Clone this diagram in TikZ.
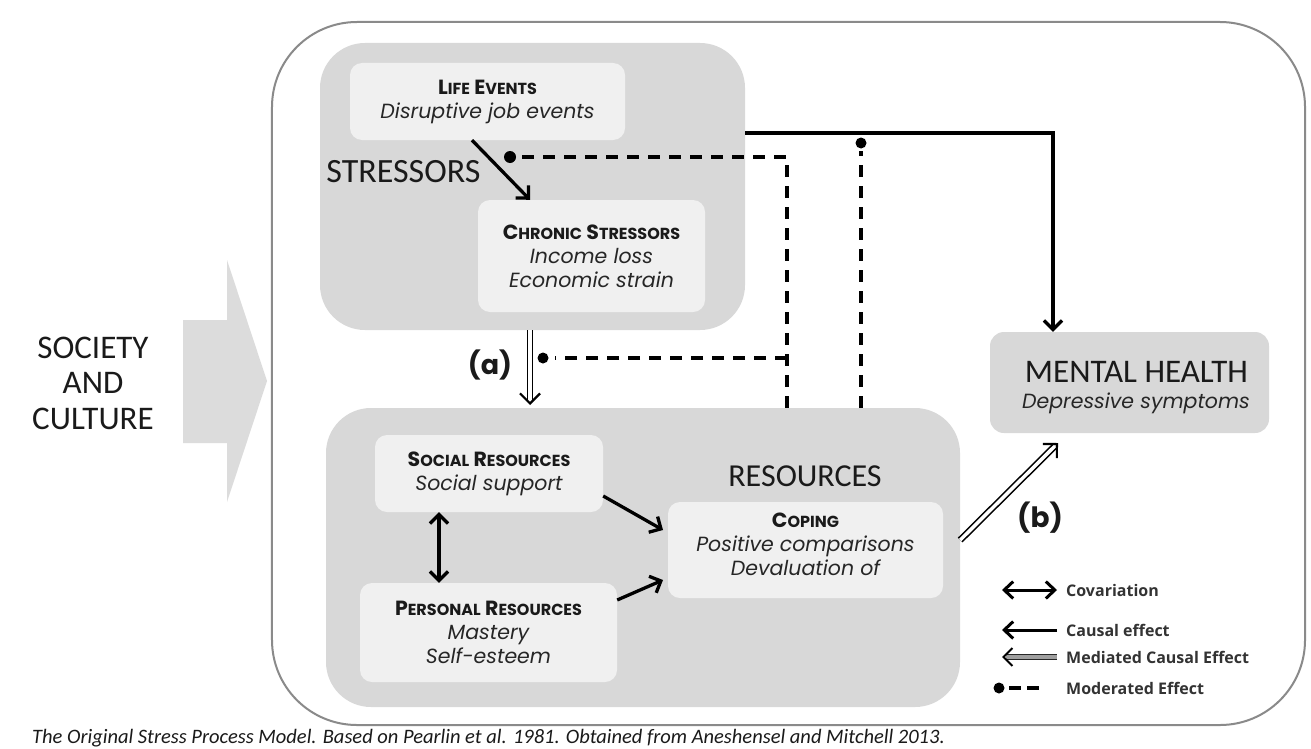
\documentclass[tikz,border=0pt]{standalone}
\usepackage{fontspec}
\setmainfont{Carlito}
\newfontfamily\pop{Poppins}
\newfontfamily\osans{Open Sans}
\usetikzlibrary{arrows.meta,calc}
\definecolor{gbox}{HTML}{D8D8D8}
\definecolor{ibox}{HTML}{F0F0F0}
\definecolor{sarrow}{HTML}{DCDCDC}
\definecolor{framec}{HTML}{8A8A8A}
\definecolor{itxt}{HTML}{262626}
\definecolor{dtxt}{HTML}{1A1A1A}
\newcommand\hd[2]{#1{\fontsize{16bp}{16bp}\selectfont #2}}
\newcommand\hdfont{\pop\bfseries\fontsize{20.5bp}{24bp}\selectfont\color{dtxt}}
\newcommand\itfont{\pop\itshape\fontsize{20.5bp}{24bp}\selectfont\color{itxt}}
\begin{document}
\begin{tikzpicture}[x=1bp,y=-1bp,
  graybox/.style={rectangle, fill=gbox, rounded corners=45bp, inner sep=0pt},
  innerbox/.style={rectangle, fill=ibox, rounded corners=12bp, align=center, inner sep=0pt, font=\fontsize{20bp}{24bp}\selectfont},
  bigtxt/.style={font=\fontsize{33bp}{35.5bp}\selectfont, text=dtxt, align=center, inner sep=0pt},
  causal/.style={line width=3.3bp, draw=black, -{Straight Barb[length=9bp,width=18bp]}},
  modline/.style={line width=3.4bp, draw=black, dash pattern=on 12bp off 9bp},
  moddot/.style={fill=black},
  dbl/.style={line width=1.6bp, draw=black, double=white, double distance=3.5bp},
  barb/.style={line width=2.2bp, draw=black, -{Straight Barb[length=10bp,width=20bp]}},
  legtxt/.style={font=\osans\bfseries\fontsize{16bp}{18bp}\selectfont, text=black!80, anchor=west, inner sep=0pt}]
\useasboundingbox (0,0) rectangle (1311,748);
\fill[white] (0,0) rectangle (1311,748);

% outer frame
\node[draw=framec, line width=2bp, rounded corners=85bp, minimum width=1033bp, minimum height=703bp, inner sep=0pt] (outer) at (788.5,373.5) {};

% society arrow
\fill[sarrow] (183,320) -- (227,320) -- (227,260) -- (267,381) -- (227,502) -- (227,443) -- (183,443) -- cycle;
\node[bigtxt] (soc) at (93,383) {SOCIETY\\AND\\CULTURE};

% stressors
\node[graybox, minimum width=425bp, minimum height=287bp] (strbox) at (532.5,186.5) {};
\node[innerbox, minimum width=275bp, minimum height=77bp] (life) at (487.5,101.5)
  {{\hdfont\hd{L}{IFE} \hd{E}{VENTS}}\\{\itfont Disruptive job events}};
\node[innerbox, minimum width=227bp, minimum height=112bp] (chron) at (591.5,256)
  {{\hdfont\hd{C}{HRONIC} \hd{S}{TRESSORS}}\\{\itfont Income loss}\\{\itfont Economic strain}};
\node[font=\fontsize{34bp}{36bp}\selectfont, text=dtxt, inner sep=0pt] (strlab) at (403.5,172) {STRESSORS};

% resources
\node[graybox, minimum width=634bp, minimum height=299bp] (resbox) at (643,557.5) {};
\node[innerbox, minimum width=228bp, minimum height=77bp] (social) at (489,473.5)
  {{\hdfont\hd{S}{OCIAL} \hd{R}{ESOURCES}}\\{\itfont Social support}};
\node[innerbox, minimum width=257bp, minimum height=99bp] (personal) at (488.5,632.5)
  {{\hdfont\hd{P}{ERSONAL} \hd{R}{ESOURCES}}\\{\itfont Mastery}\\{\itfont Self-esteem}};
\node[innerbox, minimum width=275bp, minimum height=96bp] (coping) at (805.5,550) {};
\node[align=center, inner sep=0pt, font=\fontsize{20bp}{24bp}\selectfont] (copt) at (805.5,544)
  {{\hdfont\hd{C}{OPING}}\\{\itfont Positive comparisons}\\{\itfont Devaluation of}};
\node[font=\fontsize{32bp}{34bp}\selectfont, text=dtxt, inner sep=0pt] (reslab) at (805,476) {RESOURCES};

% mental health
\node[rectangle, fill=gbox, rounded corners=14bp, minimum width=279bp, minimum height=101bp, inner sep=0pt] (mh) at (1129.5,382.5) {};
\node[font=\fontsize{33bp}{35bp}\selectfont, text=dtxt, inner sep=0pt] (mht) at (1136.5,372) {MENTAL HEALTH};
\node[inner sep=0pt] (mhs) at (1136,403) {\itfont Depressive symptoms};

% causal arrows
\draw[causal] (life.south -| 472,0) -- (chron.north -| 530,0);
\draw[line width=3.3bp, draw=black, {Straight Barb[length=9bp,width=18bp]}-{Straight Barb[length=9bp,width=18bp]}] (social.south -| 439,0) -- (personal.north -| 439,0);
\draw[causal] (social.east |- 0,496) -- (663,530);
\draw[causal] (personal.east |- 0,600) -- (663,580);
\coordinate (s1) at (strbox.east |- 0,133);
\coordinate (s2) at (1053,133);
\draw[causal] (s1) -- (s2) -- (mh.north -| s2);

% mediated arrow (a)
\coordinate (aS) at (strbox.south -| 530,0);
\coordinate (aT) at (530,405);
\draw[dbl] (aS) -- ($(aT)!4bp!(aS)$);
\draw[barb] ($(aT)!2bp!(aS)$) -- (aT);
\node[font=\pop\bfseries\fontsize{27bp}{30bp}\selectfont, text=dtxt, inner sep=0pt] (alab) at (490,365) {(a)};

% mediated arrow (b)
\coordinate (bS) at (resbox.east |- 0,540);
\coordinate (bT) at (1058,443);
\draw[dbl] (bS) -- ($(bT)!4bp!(bS)$);
\draw[barb] ($(bT)!2bp!(bS)$) -- (bT);
\node[font=\pop\bfseries\fontsize{28bp}{30bp}\selectfont, text=dtxt, inner sep=0pt] (blab) at (1040,518) {(b)};

% moderation lines
\coordinate (m1) at (510,157);
\coordinate (m2) at (543,358);
\coordinate (m3) at (861,143);
\coordinate (mL) at (787,157);
\coordinate (mLb) at (787,358);
\draw[modline] (resbox.north -| mL) -- (mL) -- ($(m1)+(10,0)$);
\draw[modline] (mLb) -- ($(m2)+(12,0)$);
\draw[modline] (resbox.north -| m3) -- ($(m3)+(0,8)$);
\fill[moddot] (m1) circle (6bp);
\fill[moddot] (m2) circle (5.5bp);
\fill[moddot] (m3) circle (5.5bp);

% legend
\coordinate (l1a) at (1002,590); \coordinate (l1b) at (1057,590);
\draw[line width=3bp, {Straight Barb[length=9bp,width=17bp]}-{Straight Barb[length=9bp,width=17bp]}] (l1a) -- (l1b);
\node[legtxt] (lt1) at (1066,590) {Covariation};
\coordinate (l2a) at (1002,630); \coordinate (l2b) at (1057,630);
\draw[line width=3bp, -{Straight Barb[length=9bp,width=17bp]}] (l2b) -- (l2a);
\node[legtxt] (lt2) at (1066,630) {Causal effect};
\coordinate (l3a) at (1002,657); \coordinate (l3b) at (1057,657);
\draw[line width=1.4bp, draw=black!85, double=gray!75, double distance=3.5bp] (l3b) -- (1006,657);
\draw[line width=2bp, -{Straight Barb[length=9bp,width=18bp]}] (1004,657) -- (l3a);
\node[legtxt] (lt3) at (1066,657) {Mediated Causal Effect};
\coordinate (l4a) at (999,688); \coordinate (l4b) at (1040,688);
\draw[line width=3.2bp, dash pattern=on 12bp off 6bp] ($(l4a)+(10,0)$) -- (l4b);
\fill (l4a) circle (5.5bp);
\node[legtxt] (lt4) at (1066,688) {Moderated Effect};

% caption
\node[anchor=base west, inner sep=0pt, font=\itshape\fontsize{20.5bp}{21bp}\selectfont, text=dtxt] (cap) at (32,743)
  {The Original Stress Process Model. Based on Pearlin et al. 1981. Obtained from Aneshensel and Mitchell 2013.};
\end{tikzpicture}
\end{document}
